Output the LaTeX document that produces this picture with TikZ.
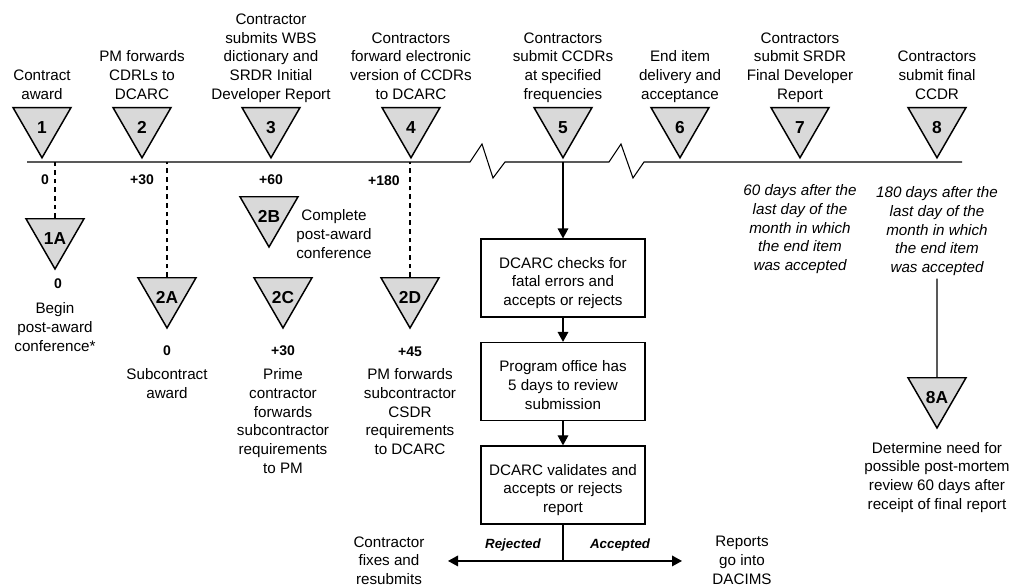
\documentclass[tikz,border=0pt]{standalone}
\usepackage{fontspec}
\setmainfont{Liberation Sans}
\usetikzlibrary{positioning,shapes.geometric,arrows.meta}

\begin{document}
\begin{tikzpicture}[x=0.75pt,y=-0.75pt]

% Styles
\tikzstyle{tri}     = [regular polygon, regular polygon sides=3, shape border rotate=180, draw, line width=1.1pt, fill=black!15, minimum size=50.25pt, inner sep=0pt, font=\fontsize{13}{15}\selectfont\bfseries, execute at begin node={\rule{0pt}{13.8pt}}]
\tikzstyle{lbl}     = [align=center, inner sep=0pt, font=\fontsize{11.4}{14}\selectfont, execute at end node=\strut]
\tikzstyle{note}    = [lbl, font=\fontsize{11.4}{14}\selectfont\itshape]
\tikzstyle{num}     = [inner sep=0pt, font=\fontsize{10.5}{12}\selectfont\bfseries]
\tikzstyle{branch}  = [inner sep=0pt, font=\fontsize{10}{12}\selectfont\bfseries\itshape]
\tikzstyle{flowbox} = [rectangle, draw, line width=0.9pt, minimum width=123pt, minimum height=58.5pt, align=center, inner sep=2pt, font=\fontsize{11.4}{14}\selectfont, execute at begin node={\rule{0pt}{45.6pt}}, execute at end node=\strut]
\tikzstyle{flow}    = [line width=0.9pt, -{Triangle[length=7.5pt,width=8pt]}]
\tikzstyle{dotline} = [line width=0.8pt, dash pattern=on 3.5pt off 3pt]

\useasboundingbox (0,0) rectangle (1011,588);

	% Tidslinje
	\coordinate (tl_start) at (27,162);
	\coordinate (tl_end) at (962,162);
	\draw[line width=0.8pt] (tl_start) -- (470,162) -- (482,144) -- (493,178) -- (505,162) -- (609,162) -- (621,144) -- (633,178) -- (644,162) -- (tl_end); % Linje med brudd

	% Milepeler
	\node[tri] (tri1) at (42,124.3) {1};
	\node[tri] (tri2) [right of=tri1, node distance=75pt] {2};
	\node[tri] (tri3) [right of=tri2, node distance=96.75pt] {3};
	\node[tri] (tri4) [right of=tri3, node distance=105pt] {4};
	\node[tri] (tri5) [right of=tri4, node distance=114pt] {5};
	\node[tri] (tri6) [right of=tri5, node distance=87.75pt] {6};
	\node[tri] (tri7) [right of=tri6, node distance=90pt] {7};
	\node[tri] (tri8) [right of=tri7, node distance=102.75pt] {8};

	% Tekst over
	\node[lbl] (top1) [above of=tri1, node distance=14.5pt, anchor=south] {Contract\\award};
	\node[lbl] (top2) [above of=tri2, node distance=14.5pt, anchor=south] {PM forwards\\CDRLs to\\DCARC};
	\node[lbl] (top3) [above of=tri3, node distance=14.5pt, anchor=south] {Contractor\\submits WBS\\dictionary and\\SRDR Initial\\Developer Report};
	\node[lbl] (top4) [above of=tri4, node distance=14.5pt, anchor=south] {Contractors\\forward electronic\\version of CCDRs\\to DCARC};
	\node[lbl] (top5) [above of=tri5, node distance=14.5pt, anchor=south] {Contractors\\submit CCDRs\\at specified\\frequencies};
	\node[lbl] (top6) [above of=tri6, node distance=14.5pt, anchor=south] {End item\\delivery and\\acceptance};
	\node[lbl] (top7) [above of=tri7, node distance=14.5pt, anchor=south] {Contractors\\submit SRDR\\Final Developer\\Report};
	\node[lbl] (top8) [above of=tri8, node distance=14.5pt, anchor=south] {Contractors\\submit final\\CCDR};

	% Dager
	\node[num] (day1) [below of=tri1, node distance=41.8pt, xshift=2.25pt] {0};
	\node[num] (day2) [below of=tri2, node distance=41.8pt] {+30};
	\node[num] (day3) [below of=tri3, node distance=41.8pt] {+60};
	\node[num] (day4) [below of=tri4, node distance=42.5pt, xshift=-20.25pt] {+180};

	% Undermilepeler
	\node[tri] (tri1a) at (55,235.5) {1A};
	\node[num] (day1a) [below of=tri1a, node distance=36.4pt, xshift=2.25pt] {0};
	\node[lbl] (txt1a) [below of=tri1a, node distance=50.2pt, anchor=north] {Begin\\post-award\\conference*};

	\node[tri] (tri2a) at (167,294.5) {2A};
	\node[num] (day2a) [below of=tri2a, node distance=42.4pt] {0};
	\node[lbl] (txt2a) [below of=tri2a, node distance=55.5pt, anchor=north] {Subcontract\\award};

	\node[tri] (tri2b) at (269,213.5) {2B};
	\node[lbl] (txt2b) [right of=tri2b, node distance=48.75pt, yshift=-17.4pt] {Complete\\post-award\\conference};

	\node[tri] (tri2c) at (283,294.5) {2C};
	\node[num] (day2c) [below of=tri2c, node distance=42.4pt] {+30};
	\node[lbl] (txt2c) [below of=tri2c, node distance=55.5pt, anchor=north] {Prime\\contractor\\forwards\\subcontractor\\requirements\\to PM};

	\node[tri] (tri2d) at (410,294.5) {2D};
	\node[num] (day2d) [below of=tri2d, node distance=43.1pt] {+45};
	\node[lbl] (txt2d) [below of=tri2d, node distance=55.5pt, anchor=north] {PM forwards\\subcontractor\\CSDR\\requirements\\to DCARC};

	\draw[dotline] (tri1a.north) -- (tri1a.north |- tl_start); % Stiplet
	\draw[dotline] (tri2a.north) -- (tri2a.north |- tl_start); % Stiplet
	\draw[dotline] (tri2d.north) -- (tri2d.north |- tl_start); % Stiplet

	% Merknader 7 og 8
	\node[note] (note7) [below of=tri7, node distance=45.2pt, anchor=north] {60 days after the\\last day of the\\month in which\\the end item\\was accepted};
	\node[note] (note8) [below of=tri8, node distance=46.8pt, anchor=north] {180 days after the\\last day of the\\month in which\\the end item\\was accepted};
	\node[tri] (tri8a) [below of=tri8, node distance=202.65pt] {8A};
	\node[lbl] (txt8a) [below of=tri8a, node distance=35.6pt, anchor=north] {Determine need for\\possible post-mortem\\review 60 days after\\receipt of final report};
	\draw[line width=0.8pt] (note8.south) -- (tri8a.north);

	% Flyt
	\node[flowbox] (box_check) [below of=tri5, node distance=115.3pt] {DCARC checks for\\fatal errors and\\accepts or rejects};
	\node[flowbox] (box_review) [below of=box_check, node distance=77.6pt] {Program office has\\5 days to review\\submission};
	\node[flowbox] (box_validate) [below of=box_review, node distance=77.6pt] {DCARC validates and\\accepts or rejects\\report};
	\coordinate (tl5) at (tri5 |- tl_start);
	\draw[flow] (tl5) -- (box_check);
	\draw[flow] (box_check) -- (box_review);
	\draw[flow] (box_review) -- (box_validate);

	\coordinate (split) at ([yshift=-57pt]box_validate.center);
	\coordinate (rej_end) at ([xshift=-86.25pt]split);
	\coordinate (acc_end) at ([xshift=89.25pt]split);
	\draw[line width=0.9pt] (box_validate) -- (split);
	\draw[flow] (split) -- node[branch, pos=0.435, above=7pt] (rej_lbl) {Rejected} (rej_end);
	\draw[flow] (split) -- node[branch, pos=0.48, above=7pt] (acc_lbl) {Accepted} (acc_end);
	\node[lbl] (fix_txt) [left of=split, node distance=130.5pt, yshift=18.6pt, anchor=north, execute at end node={}] {Contractor\\fixes and\\resubmits};
	\node[lbl] (dacims_txt) [right of=split, node distance=134.25pt, yshift=18.6pt, anchor=north, execute at end node={}] {Reports\\go into\\DACIMS};

\end{tikzpicture}
\end{document}
